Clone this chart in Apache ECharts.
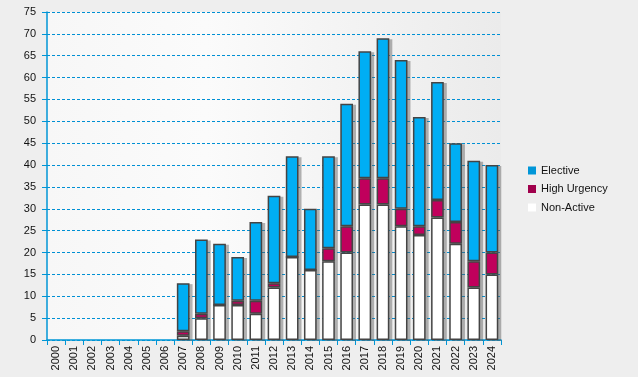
<!DOCTYPE html>
<html>
<head>
<meta charset="utf-8">
<script src="https://cdn.jsdelivr.net/npm/echarts@6/dist/echarts.min.js"></script>
<style>
html,body{margin:0;padding:0;background:#eeeeee;}
#c{width:638px;height:377px;}
</style>
</head>
<body>
<div id="c"></div>
<script>
var years = ['2000','2001','2002','2003','2004','2005','2006','2007','2008','2009','2010','2011','2012','2013','2014','2015','2016','2017','2018','2019','2020','2021','2022','2023','2024'];
var nonActive   = [null,null,null,null,null,null,null, 1, 5, 8, 8, 6,12,19,16,18,20,31,31,26,24,28,22,12,15];
var highUrgency = [null,null,null,null,null,null,null, 1, 1, 0, 1, 3, 1, 0, 0, 3, 6, 6, 6, 4, 2, 4, 5, 6, 5];
var elective    = [null,null,null,null,null,null,null,11,17,14,10,18,20,23,14,21,28,29,32,34,25,27,18,23,20];
var yTicks = [0,5,10,15,20,25,30,35,40,45,50,55,60,65,70,75];

var totals = years.map(function(_, i){
  if (nonActive[i] == null) return null;
  return nonActive[i] + highUrgency[i] + elective[i];
});

var chart = echarts.init(document.getElementById('c'), null, {renderer:'canvas'});
var font = 'Liberation Sans, Arial, sans-serif';
var blue = '#0096d6';
function barStyle(color){
  return {color: color, borderColor:'#444444', borderWidth:1.5};
}
chart.setOption({
  backgroundColor:'#eeeeee',
  animation:false,
  textStyle:{fontFamily:font},
  grid:[
    {left:47, right:137, top:12, bottom:37, show:true, borderWidth:0,
        backgroundColor:new echarts.graphic.LinearGradient(0,0,1,0,[
          {offset:0,color:'#f7f7f7'},{offset:0.35,color:'#fbfbfb'},{offset:1,color:'#ebebeb'}])},
    {left:50, right:134, top:13, bottom:36, show:false}
  ],
  legend:{
    orient:'vertical', left:523, top:160, itemWidth:8, itemHeight:8, itemGap:7.5,
    icon:'rect',
    textStyle:{fontSize:11, color:'#111', fontFamily:font},
    data:[
      {name:'Elective', itemStyle:{color:'#0096d8', borderWidth:0}},
      {name:'High Urgency', itemStyle:{color:'#a0004c', borderWidth:0}},
      {name:'Non-Active', itemStyle:{color:'#ffffff', borderWidth:0}}
    ]
  },
  xAxis:[{
    type:'category', data:years, boundaryGap:true, gridIndex:0,
    axisLine:{lineStyle:{color:blue, width:1.5}},
    axisTick:{show:true, length:5, alignWithLabel:false, lineStyle:{color:blue}},
    axisLabel:{rotate:90, fontSize:11, color:'#111', margin:6, fontFamily:font, interval:0},
    splitLine:{show:false}
  },{
    type:'category', data:years, boundaryGap:true, gridIndex:1, show:false
  }],
  yAxis:[{
    type:'value', min:0, max:75, interval:5, gridIndex:0,
    axisLine:{show:true, lineStyle:{color:blue, width:1.5}},
    axisTick:{show:true, length:5, lineStyle:{color:blue}},
    axisLabel:{fontSize:11, color:'#111', margin:11, fontFamily:font,
      formatter:function(v){return yTicks.indexOf(v)>=0 ? String(v) : '';}},
    splitLine:{show:true, lineStyle:{color:'#0090d4', type:[3,2], width:1}}
  },{
    type:'value', min:0, max:75, interval:5, gridIndex:1, show:false, splitLine:{show:false}
  }],
  series:[
    {name:'shadow', type:'bar', xAxisIndex:1, yAxisIndex:1, data:totals, barWidth:'70%', silent:true,
     z:1, itemStyle:{color:'rgba(90,90,90,0.45)'}},
    {name:'Non-Active', type:'bar', stack:'a', data:nonActive, barWidth:'70%', z:2, itemStyle:barStyle('#ffffff')},
    {name:'High Urgency', type:'bar', stack:'a', data:highUrgency, z:2, itemStyle:barStyle('#c0005c')},
    {name:'Elective', type:'bar', stack:'a', data:elective, z:2, itemStyle:barStyle('#00aef4')}
  ]
});
</script>
</body>
</html>
